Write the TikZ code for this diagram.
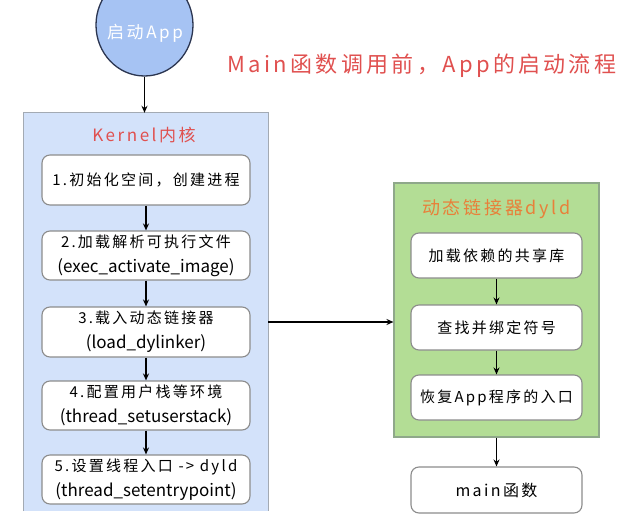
\documentclass[tikz,border=0pt]{standalone}
\usepackage{fontspec}
\setmainfont{Noto Sans CJK SC}
\newfontfamily\lsfont[LetterSpace=15]{Noto Sans CJK SC}
\usetikzlibrary{shapes.geometric,arrows.meta}
\definecolor{kblue}{HTML}{D3E2FA}
\definecolor{kborder}{HTML}{A3AAB3}
\definecolor{dgreen}{HTML}{B3DD95}
\definecolor{gborder}{HTML}{8FA88A}
\definecolor{boxgray}{HTML}{8C8C8C}
\definecolor{appblue}{HTML}{A6C3F3}
\definecolor{appborder}{HTML}{2B3550}
\definecolor{titlered}{HTML}{E0504F}
\definecolor{dyldorange}{HTML}{E8803A}
\begin{document}
\begin{tikzpicture}[x=1pt,y=-1pt,
  box/.style={draw=boxgray, line width=1.1pt, fill=white, rounded corners=8pt,
    inner sep=0pt, align=center, font=\fontsize{15}{25}\selectfont},
  kbox/.style={box, minimum width=208pt, minimum height=49pt},
  gbox/.style={box, minimum width=171pt, minimum height=45pt},
  arr/.style={-{Stealth[length=7pt,width=6pt]}, line width=1.3pt},
  cjk/.style={font=\lsfont\fontsize{15}{25}\selectfont}]
\useasboundingbox (0,0) rectangle (625,519);
% start ellipse
\node[ellipse, draw=appborder, line width=1.3pt, fill=appblue, minimum width=97pt,
  minimum height=102pt, inner sep=0pt] (app) at (144.5,25) {};
\node[text=white, font=\lsfont\fontsize{17}{20}\selectfont] (apptext) at (145,33) {启动App};
% title
\node[text=titlered, font=\lsfont\fontsize{22}{26}\selectfont] (title) at (422,66) {Main函数调用前，App的启动流程};
% kernel container
\node[fill=kblue, draw=none, minimum width=244pt, minimum height=398pt, inner sep=0pt] (kernel) at (146,312) {};
\draw[kborder, line width=1.1pt] (kernel.south west) -- (kernel.north west) -- (kernel.north east) -- (kernel.south east);
\node[text=titlered, font=\lsfont\fontsize{17}{20}\selectfont] (ktitle) at (144,135) {Kernel内核};
\node[kbox, minimum height=50pt] (k1) at (146,180) {{\lsfont 1.初始化空间，创建进程}};
\node[kbox] (k2) at (146,255.5) {{\lsfont 2.加载解析可执行文件}\\{\fontsize{17}{25}\selectfont (exec\_activate\_image)}};
\node[kbox, minimum height=50pt] (k3) at (146,332) {{\lsfont 3.载入动态链接器}\\{\fontsize{17}{25}\selectfont (load\_dylinker)}};
\node[kbox] (k4) at (146,405.5) {{\lsfont 4.配置用户栈等环境}\\{\fontsize{17}{25}\selectfont (thread\_setuserstack)}};
\node[kbox] (k5) at (146,479.5) {{\lsfont 5.设置线程入口 -> dyld}\\{\fontsize{17}{25}\selectfont (thread\_setentrypoint)}};
% dyld container
\node[fill=dgreen, draw=gborder, line width=1.1pt, minimum width=205pt, minimum height=254pt, inner sep=0pt] (dyld) at (496.5,310) {};
\node[text=dyldorange, font=\lsfont\fontsize{18}{22}\selectfont] (dtitle) at (496.5,209) {动态链接器dyld};
\node[gbox] (d1) at (496.5,255.5) {{\lsfont 加载依赖的共享库}};
\node[gbox] (d2) at (496.5,327.5) {{\lsfont 查找并绑定符号}};
\node[gbox] (d3) at (496.5,397.5) {{\lsfont 恢复App程序的入口}};
\node[gbox, minimum height=46pt] (mainf) at (496.5,490) {{\lsfont\fontsize{16}{20}\selectfont main函数}};
% arrows
\draw[arr] (app) -- (app |- kernel.north);
\draw[arr] (k1) -- (k2);
\draw[arr] (k2) -- (k3);
\draw[arr] (k3) -- (k4);
\draw[arr] (k4) -- (k5);
\coordinate (hs) at ([yshift=-10pt]kernel.east);
\draw[arr] (hs) -- (hs -| dyld.west);
\draw[arr] (d1) -- (d2);
\draw[arr] (d2) -- (d3);
\draw[arr] (dyld) -- (mainf);
\end{tikzpicture}
\end{document}
